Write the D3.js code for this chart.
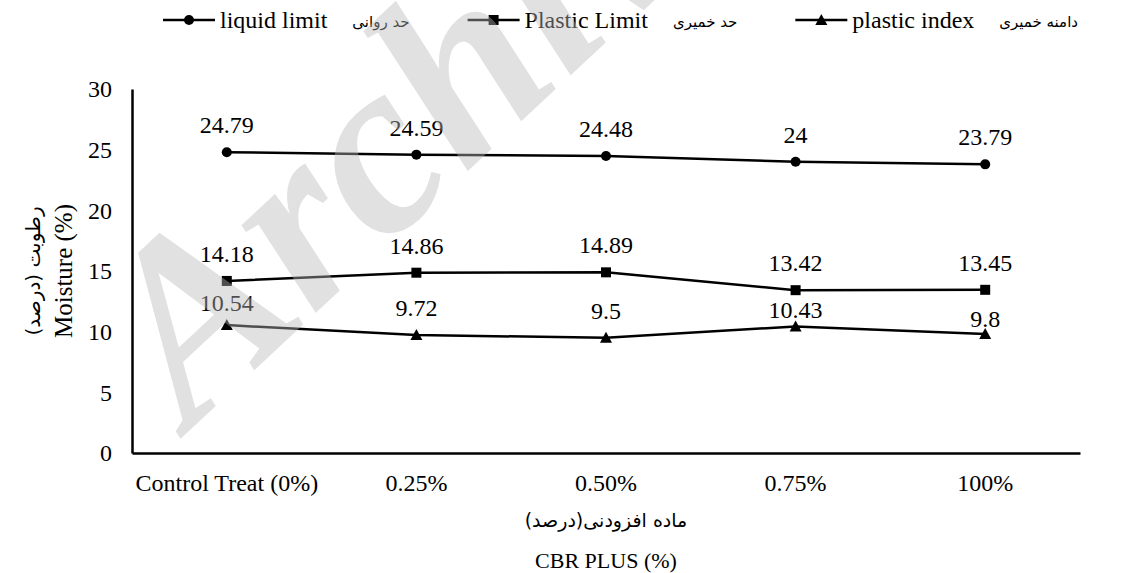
<!DOCTYPE html>
<html>
<head>
<meta charset="utf-8">
<script src="https://cdn.jsdelivr.net/npm/d3@7"></script>
<style>
  html, body { margin: 0; padding: 0; background: #fff; }
  svg { display: block; }
</style>
</head>
<body>
<svg id="chart" width="1125" height="573"></svg>
<script>
// ---- data ----
const categories = ["Control Treat (0%)", "0.25%", "0.50%", "0.75%", "100%"];
const liquidLimit = [24.79, 24.59, 24.48, 24, 23.79];
const plasticLimit = [14.18, 14.86, 14.89, 13.42, 13.45];
const plasticIndex = [10.54, 9.72, 9.5, 10.43, 9.8];
const seriesNamesEn = ["liquid limit", "Plastic Limit", "plastic index"];
const seriesNamesFa = ["حد روانی", "حد خمیری", "دامنه خمیری"];
const yTicks = [0, 5, 10, 15, 20, 25, 30];
const yTitleEn = "Moisture (%)";
const yTitleFa = "رطوبت (درصد)";
const xTitleFa = "ماده افزودنی(درصد)";
const xTitleEn = "CBR PLUS (%)";

// ---- layout ----
const SERIF = '"Liberation Serif", "Times New Roman", serif';
const FA = '"DejaVu Sans", sans-serif';
const plot = { left: 132, right: 1080, top: 89, bottom: 453 };
const svg = d3.select("#chart");

const x = d3.scaleBand().domain(categories).range([plot.left, plot.right]);
const y = d3.scaleLinear().domain([0, 30]).range([plot.bottom, plot.top]);
const cx = c => x(c) + x.bandwidth() / 2;

const series = [
  { en: seriesNamesEn[0], fa: seriesNamesFa[0], values: liquidLimit, marker: "circle" },
  { en: seriesNamesEn[1], fa: seriesNamesFa[1], values: plasticLimit, marker: "square" },
  { en: seriesNamesEn[2], fa: seriesNamesFa[2], values: plasticIndex, marker: "triangle" }
];

// label vertical nudges (pixels) for a few crowded labels
const labelNudge = { "plastic index": [5, 0, 0, 11, 12] };

function drawMarker(g, type, px, py) {
  if (type === "circle") {
    g.append("circle").attr("cx", px).attr("cy", py).attr("r", 5).attr("fill", "#000");
  } else if (type === "square") {
    g.append("rect").attr("x", px - 5).attr("y", py - 5).attr("width", 10).attr("height", 10).attr("fill", "#000");
  } else {
    g.append("path").attr("d", `M${px},${py - 6}L${px + 6},${py + 5}L${px - 6},${py + 5}Z`).attr("fill", "#000");
  }
}

// ---- axes ----
const yAxis = svg.append("g")
  .attr("transform", `translate(${plot.left},0)`)
  .call(d3.axisLeft(y).tickValues(yTicks).tickSize(0).tickPadding(20).tickSizeOuter(0));
yAxis.select(".domain").attr("stroke", "#000").attr("stroke-width", 2.5);
yAxis.selectAll("text").style("font-family", SERIF).style("font-size", "24px").attr("fill", "#000");

const xAxis = svg.append("g")
  .attr("transform", `translate(0,${plot.bottom})`)
  .call(d3.axisBottom(x).tickSize(0).tickPadding(21).tickSizeOuter(0));
xAxis.select(".domain").attr("stroke", "#000").attr("stroke-width", 2.5);
xAxis.selectAll("text").style("font-family", SERIF).style("font-size", "24px").attr("fill", "#000");

// ---- lines ----
const line = d3.line().x((d, i) => cx(categories[i])).y(d => y(d));
series.forEach(s => {
  const g = svg.append("g");
  g.append("path").datum(s.values).attr("d", line)
    .attr("fill", "none").attr("stroke", "#000").attr("stroke-width", 2.5).attr("stroke-linejoin", "round");
  s.values.forEach((v, i) => drawMarker(g, s.marker, cx(categories[i]), y(v)));
  const nud = labelNudge[s.en] || [0, 0, 0, 0, 0];
  s.values.forEach((v, i) => {
    g.append("text").attr("x", cx(categories[i])).attr("y", y(v) - 19 + nud[i])
      .attr("text-anchor", "middle").attr("fill", "#000")
      .style("font-family", SERIF).style("font-size", "24px").text(String(v));
  });
});

// ---- axis titles ----
const midY = (plot.top + plot.bottom) / 2;
svg.append("text").attr("transform", `translate(72,${midY}) rotate(-90)`)
  .attr("text-anchor", "middle").attr("fill", "#000")
  .style("font-family", SERIF).style("font-size", "25px").text(yTitleEn);
svg.append("text").attr("transform", `translate(40,${midY}) rotate(-90)`)
  .attr("text-anchor", "middle").attr("direction", "rtl").attr("fill", "#000")
  .style("font-family", FA).style("font-size", "20px").text(yTitleFa);
svg.append("text").attr("x", (plot.left + plot.right) / 2).attr("y", 527)
  .attr("text-anchor", "middle").attr("direction", "rtl").attr("fill", "#000")
  .style("font-family", FA).style("font-size", "19px").text(xTitleFa);
svg.append("text").attr("x", (plot.left + plot.right) / 2).attr("y", 568)
  .attr("text-anchor", "middle").attr("fill", "#000")
  .style("font-family", SERIF).style("font-size", "22px").text(xTitleEn);

// ---- legend ----
const legend = svg.append("g");
let lx = 163;
const ly = 20;
series.forEach((s, k) => {
  const g = legend.append("g");
  g.append("line").attr("x1", lx).attr("x2", lx + 52).attr("y1", ly).attr("y2", ly)
    .attr("stroke", "#000").attr("stroke-width", 2.5);
  drawMarker(g, s.marker, lx + 26, ly);
  lx += 57;
  const te = g.append("text").attr("x", lx).attr("y", ly + 8).attr("fill", "#000")
    .style("font-family", SERIF).style("font-size", "24px").text(s.en);
  lx += te.node().getComputedTextLength() + 25;
  const tf = g.append("text").attr("x", lx).attr("y", ly + 7).attr("fill", "#000")
    .style("font-family", FA).style("font-size", "15px").text(s.fa);
  lx += tf.node().getComputedTextLength() + 58;
});

// ---- watermark ----
svg.append("text")
  .attr("transform", "translate(190,430) rotate(-43)")
  .style("font-family", SERIF).style("font-size", "250px")
  .style("font-weight", "bold").style("font-style", "italic")
  .style("fill", "rgb(185,185,185)").style("opacity", 0.42)
  .style("pointer-events", "none")
  .text("Archive");
</script>
</body>
</html>
